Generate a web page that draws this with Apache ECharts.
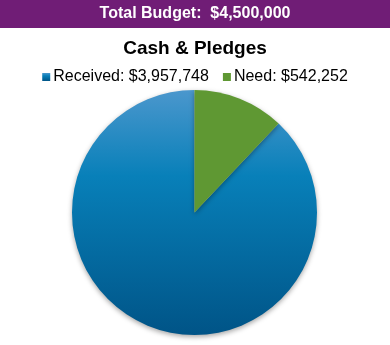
<!DOCTYPE html>
<html>
<head>
<meta charset="utf-8">
<script src="https://cdn.jsdelivr.net/npm/echarts@6/dist/echarts.min.js"></script>
<style>
  html, body { margin: 0; padding: 0; background: #fff; }
  #chart { width: 390px; height: 345px; }
</style>
</head>
<body>
<div id="chart"></div>
<script>
// Budget breakdown
const categories = ['Received', 'Need'];
const amounts = [3957748, 542252];
const totalBudget = 4500000;
const headerLabel = 'Total Budget:';
const chartTitle = 'Cash & Pledges';

const fmt = v => '$' + v.toLocaleString('en-US');

const blueFill = new echarts.graphic.LinearGradient(0, 0, 0, 1, [
  { offset: 0, color: '#4b97cd' },
  { offset: 0.35, color: '#0880b9' },
  { offset: 1, color: '#005487' }
]);
const greenFill = '#5f9833';

const chart = echarts.init(document.getElementById('chart'), null, { renderer: 'canvas' });
chart.setOption({
  animation: false,
  textStyle: { fontFamily: 'Liberation Sans, Arial, sans-serif' },
  graphic: [
    {
      type: 'rect',
      shape: { x: 0, y: 0, width: 390, height: 28 },
      style: { fill: '#701d76' }
    },
    {
      type: 'text',
      x: 195, y: 14,
      style: {
        text: headerLabel + '  ' + fmt(totalBudget),
        fill: '#ffffff',
        font: 'bold 16px "Liberation Sans", Arial, sans-serif',
        align: 'center',
        verticalAlign: 'middle'
      }
    }
  ],
  title: {
    text: chartTitle,
    left: 'center',
    top: 34,
    textStyle: { fontSize: 19, fontWeight: 'bold', color: '#000', fontFamily: 'Liberation Sans, Arial, sans-serif' }
  },
  legend: {
    top: 64,
    left: 'center',
    icon: 'rect',
    itemWidth: 8,
    itemHeight: 8,
    itemGap: 14,
    textStyle: { fontSize: 16, color: '#000', padding: [0, 0, 0, -2] },
    formatter: name => name + ': ' + fmt(amounts[categories.indexOf(name)])
  },
  series: [{
    type: 'pie',
    center: [194.5, 212.5],
    radius: [0, 122.5],
    startAngle: 90,
    clockwise: false,
    label: { show: false },
    labelLine: { show: false },
    emphasis: { disabled: true },
    itemStyle: {
      shadowBlur: 5,
      shadowColor: 'rgba(0,0,0,0.35)',
      shadowOffsetY: 2
    },
    data: categories.map((c, i) => ({
      name: c,
      value: amounts[i],
      itemStyle: { color: i === 0 ? blueFill : greenFill }
    }))
  }]
});
</script>
</body>
</html>
